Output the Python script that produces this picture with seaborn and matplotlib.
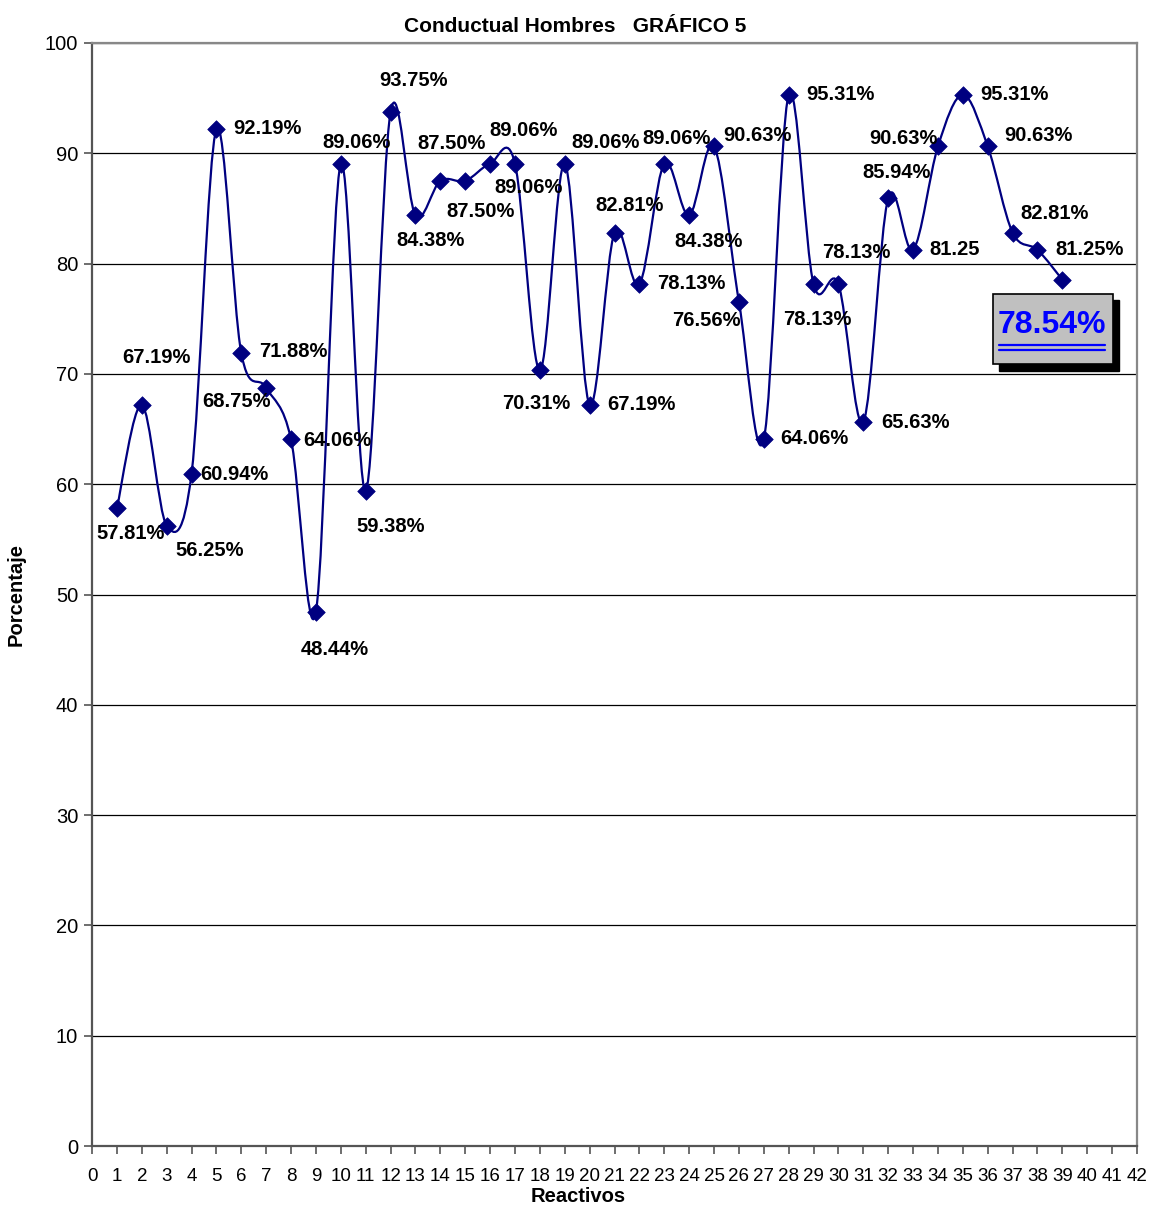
import numpy as np
import pandas as pd
import matplotlib
matplotlib.use("Agg")
import matplotlib.pyplot as plt
from matplotlib.path import Path
from matplotlib.patches import PathPatch, Rectangle
from matplotlib.lines import Line2D
import seaborn as sns

# ---- data ----
reactivos = list(range(1, 40))
porcentaje = [57.81, 67.19, 56.25, 60.94, 92.19, 71.88, 68.75, 64.06, 48.44, 89.06,
              59.38, 93.75, 84.38, 87.50, 87.50, 89.06, 89.06, 70.31, 89.06, 67.19,
              82.81, 78.13, 89.06, 84.38, 90.63, 76.56, 64.06, 95.31, 78.13, 78.13,
              65.63, 85.94, 81.25, 90.63, 95.31, 90.63, 82.81, 81.25, 78.54]
promedio = 78.54
titulo = "Conductual Hombres   GRÁFICO 5"
x_ticks = list(range(0, 43))
y_ticks = list(range(0, 101, 10))

# label placement (pixel offsets right / down from each marker)
label_offsets = [(14, 25), (15, -47), (43, 25), (43, 1), (51, -1), (52, -2), (-30, 14),
                 (46, 1), (19, 38), (16, -21), (25, 35), (23, -31), (15, 25), (11, -37),
                 (15, 31), (33, -33), (14, 24), (-4, 33), (41, -21), (52, 0), (15, -27),
                 (52, -1), (12, -25), (19, 26), (43, -11), (-33, 19), (51, -1), (52, 0),
                 (4, 35), (18, -32), (52, 0), (8, -26), (42, 0), (-35, -8), (52, 0),
                 (51, -11), (42, -19), (52, 0), None]
sin_porcentaje = {33}

df = pd.DataFrame({"Reactivos": reactivos, "Porcentaje": porcentaje})

sns.set_theme(style="white")
plt.rcParams["font.family"] = ["Liberation Sans", "DejaVu Sans"]
plt.rcParams.update({"text.color": "black", "axes.labelcolor": "black",
                     "xtick.color": "black", "ytick.color": "black"})

W, H = 1151, 1205
fig = plt.figure(figsize=(W / 100, H / 100), dpi=100)
ax = fig.add_axes([92 / W, (H - 1146) / H, 1045 / W, 1103 / H])

navy = "#000080"

# smoothed line (cubic Bezier segments through the points)
xs = df["Reactivos"].to_numpy(float)
ys = df["Porcentaje"].to_numpy(float)
pts = np.column_stack([xs, ys])
ext = np.vstack([pts[0], pts, pts[-1]])
verts = [tuple(pts[0])]
codes = [Path.MOVETO]
for i in range(len(pts) - 1):
    p0, p1, p2, p3 = ext[i], ext[i + 1], ext[i + 2], ext[i + 3]
    c1 = p1 + (p2 - p0) / 6.0
    c2 = p2 - (p3 - p1) / 6.0
    verts += [tuple(c1), tuple(c2), tuple(p2)]
    codes += [Path.CURVE4] * 3
ax.add_patch(PathPatch(Path(verts, codes), facecolor="none", edgecolor=navy,
                       lw=1.6, zorder=3))

sns.scatterplot(data=df, x="Reactivos", y="Porcentaje", marker="D", s=80,
                color=navy, edgecolor=navy, linewidth=0.5, ax=ax, zorder=4, legend=False)

# value labels
for x, y, off in zip(reactivos, porcentaje, label_offsets):
    if off is None:
        continue
    txt = f"{y:.2f}" if x in sin_porcentaje else f"{y:.2f}%"
    ax.annotate(txt, (x, y), xytext=(off[0], -off[1]), textcoords="offset pixels",
                ha="center", va="center", fontsize=14.5, fontweight="bold",
                color="black", zorder=5)

ax.set_xlim(0, 42)
ax.set_ylim(0, 100)
ax.set_xticks(x_ticks)
ax.set_yticks(y_ticks)
ax.set_xticklabels([str(t) for t in x_ticks], fontsize=13.5)
ax.set_yticklabels([str(t) for t in y_ticks], fontsize=14.5)
ax.tick_params(axis="both", direction="out", length=6, width=1.2, color="#555555",
               labelcolor="black", bottom=True, left=True, pad=4)
ax.tick_params(axis="x", pad=10)
ax.yaxis.grid(True, color="black", lw=0.9)
ax.xaxis.grid(False)
ax.set_axisbelow(True)
for side in ["left", "bottom"]:
    ax.spines[side].set_color("#555555")
    ax.spines[side].set_linewidth(1.6)
for side in ["top", "right"]:
    ax.spines[side].set_color("#888888")
    ax.spines[side].set_linewidth(1.6)

ax.set_xlabel("Reactivos", fontsize=14.5, fontweight="bold", va="center")
ax.xaxis.set_label_coords((578 - 92) / 1045, -(1196 - 1146) / 1103)
ax.set_ylabel("Porcentaje", fontsize=14.5, fontweight="bold", labelpad=14)
fig.text(575 / W, 1 - 26 / H, titulo, ha="center", va="center", fontsize=15,
         fontweight="bold")

# average box with shadow
def fig_rect(x0, y0, x1, y1, **kw):
    return Rectangle((x0 / W, 1 - y1 / H), (x1 - x0) / W, (y1 - y0) / H,
                     transform=fig.transFigure, **kw)

fig.add_artist(fig_rect(999, 300, 1119, 371, facecolor="black", edgecolor="black", zorder=6))
fig.add_artist(fig_rect(993, 294, 1113, 364, facecolor="#C0C0C0", edgecolor="black",
                        lw=1.2, zorder=7))
fig.text(1052 / W, 1 - 325 / H, f"{promedio:.2f}%", ha="center", va="center",
         fontsize=23, fontweight="bold", color="#0000FF", zorder=8)
for yy in (345, 349.5):
    fig.add_artist(Line2D([999 / W, 1105 / W], [1 - yy / H, 1 - yy / H],
                          transform=fig.transFigure, color="#0000FF", lw=1.6, zorder=8))

fig.savefig("out.png", dpi=100)
